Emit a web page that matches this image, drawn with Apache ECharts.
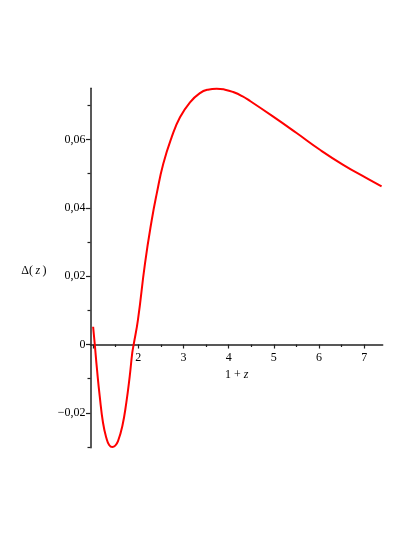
<!DOCTYPE html>
<html>
<head>
<meta charset="utf-8">
<script src="https://cdn.jsdelivr.net/npm/echarts@6/dist/echarts.min.js"></script>
<style>html,body{margin:0;padding:0;background:#fff}#c{width:415px;height:537px}</style>
</head>
<body>
<div id="c"></div>
<script>
const xValues = [1.000, 1.035, 1.086, 1.146, 1.219, 1.292, 1.355, 1.425, 1.490, 1.551, 1.646, 1.735, 1.810, 1.867, 1.898, 1.993, 2.148, 2.296, 2.407, 2.553, 2.739, 2.923, 3.144, 3.365, 3.540, 3.735, 3.920, 4.100, 4.300, 4.471, 4.987, 5.504, 6.020, 6.535, 7.053, 7.385];
const yValues = [0.0052, 0.0003, -0.0073, -0.0151, -0.0229, -0.0273, -0.0294, -0.0300, -0.0296, -0.0283, -0.0239, -0.0170, -0.0093, -0.0024, 0.0000, 0.0073, 0.0237, 0.0363, 0.0441, 0.0529, 0.0607, 0.0665, 0.0709, 0.0736, 0.0746, 0.0749, 0.0746, 0.0739, 0.0727, 0.0713, 0.0667, 0.0619, 0.0570, 0.0526, 0.0487, 0.0463];
const xMajorTicks = [1, 2, 3, 4, 5, 6, 7];
const xLabelValues = [2, 3, 4, 5, 6, 7];
const xMinorTicks = [1.5, 2.5, 3.5, 4.5, 5.5, 6.5];
const yMajorTicks = [-0.02, 0, 0.02, 0.04, 0.06];
const yMinorTicks = [-0.03, -0.01, 0.01, 0.03, 0.05, 0.07];

const X_MIN = 0.942, X_MAX = 7.41, Y_MIN = -0.0302, Y_MAX = 0.0750;
const serif = 'Liberation Serif';
const axisColor = '#222';

const GRID = {left: 90.5, right: 32.3, top: 88.3, bottom: 89.3};
const gridH = 537 - GRID.top - GRID.bottom;
// shift x axis from the grid bottom up to the y = 0 line
const zeroOffset = -gridH * (0 - Y_MIN) / (Y_MAX - Y_MIN);

function fmtY(v) {
  if (Math.abs(v) < 1e-9) return '0';
  const s = Math.abs(v).toFixed(2).replace('.', ',');
  return (v < 0 ? '\u2212' : '') + s;
}

const chart = echarts.init(document.getElementById('c'), null, {renderer: 'canvas'});
chart.setOption({
  animation: false,
  backgroundColor: '#fff',
  grid: Object.assign({containLabel: false, outerBoundsMode: 'none'}, GRID),
  xAxis: [{
    type: 'value', min: X_MIN, max: X_MAX, position: 'bottom', offset: zeroOffset,
    axisLine: {show: true, onZero: false, lineStyle: {color: axisColor, width: 1.5}},
    axisTick: {show: true, length: 4, customValues: xMajorTicks, lineStyle: {color: axisColor, width: 1.2}},
    axisLabel: {show: true, customValues: xLabelValues, margin: 7, color: '#000', fontFamily: serif, fontSize: 12},
    splitLine: {show: false},
    name: '1 + {i|z}', nameLocation: 'middle', nameGap: 22,
    nameTextStyle: {color: '#000', fontFamily: serif, fontSize: 12, rich: {i: {fontStyle: 'italic', fontFamily: serif, fontSize: 12, color: '#000'}}}
  }, {
    type: 'value', min: X_MIN, max: X_MAX, position: 'bottom', offset: zeroOffset,
    axisLine: {show: false, onZero: false},
    axisTick: {show: true, length: 2.5, customValues: xMinorTicks, lineStyle: {color: axisColor, width: 1.2}},
    axisLabel: {show: false},
    splitLine: {show: false}
  }],
  yAxis: [{
    type: 'value', min: Y_MIN, max: Y_MAX, position: 'left',
    axisLine: {show: true, onZero: false, lineStyle: {color: axisColor, width: 1.5}},
    axisTick: {show: true, length: 4.5, customValues: yMajorTicks, lineStyle: {color: axisColor, width: 1.2}},
    axisLabel: {show: true, customValues: yMajorTicks, margin: 5, color: '#000', fontFamily: serif, fontSize: 12, formatter: fmtY},
    splitLine: {show: false},
    name: '\u0394(\u2009{i|z}\u2009)', nameLocation: 'middle', nameRotate: 0, nameGap: 44,
    nameTextStyle: {color: '#000', fontFamily: serif, fontSize: 12, align: 'right', padding: [6, 0, 0, 0], rich: {i: {fontStyle: 'italic', fontFamily: serif, fontSize: 12, color: '#000'}}}
  }, {
    type: 'value', min: Y_MIN, max: Y_MAX, position: 'left', offset: 0,
    axisLine: {show: false, onZero: false},
    axisTick: {show: true, length: 3, customValues: yMinorTicks, lineStyle: {color: axisColor, width: 1.2}},
    axisLabel: {show: false},
    splitLine: {show: false}
  }],
  series: [{
    type: 'line', xAxisIndex: 0, yAxisIndex: 0,
    data: xValues.map((x, i) => [x, yValues[i]]),
    smooth: 0.5, showSymbol: false, clip: false,
    lineStyle: {color: '#ff0000', width: 2}
  }]
});
</script>
</body>
</html>
